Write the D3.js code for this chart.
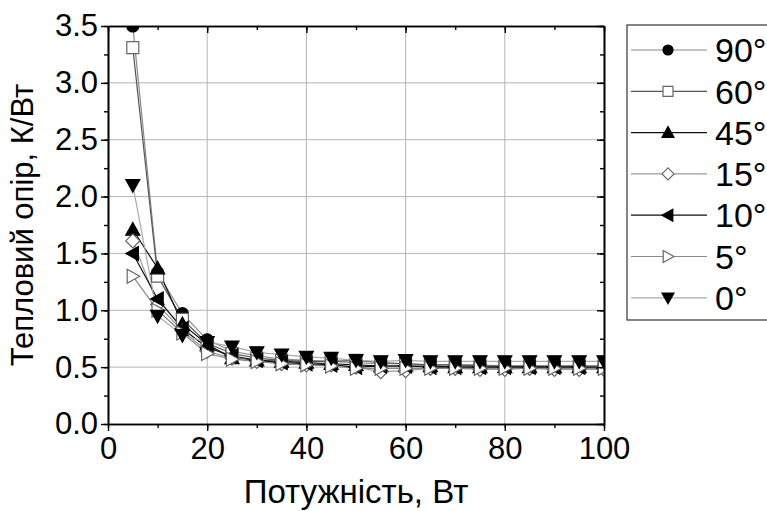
<!DOCTYPE html>
<html lang="uk">
<head>
  <meta charset="UTF-8">
  <title>Тепловий опір</title>
  <script src="https://d3js.org/d3.v7.min.js"></script>
  <style>
    body { margin: 0; background: #fff; }
    svg { display: block; font-family: "Liberation Sans", Arial, Helvetica, sans-serif; }
    .grid line { stroke: #b4b4b4; stroke-width: 1; }
    .axis path, .axis line { stroke: #000; }
  </style>
</head>
<body>
  <svg width="767" height="511"></svg>
  <script>
    // Power, W
    const power = [5, 10, 15, 20, 25, 30, 35, 40, 45, 50, 55, 60, 65, 70, 75, 80, 85, 90, 95, 100];

    // Thermal resistance, K/W, per inclination angle
    const r90 = [3.50, 1.33, 0.97, 0.74, 0.64, 0.60, 0.57, 0.56, 0.55, 0.54, 0.53, 0.53, 0.52, 0.52, 0.52, 0.51, 0.51, 0.51, 0.51, 0.51];
    const r60 = [3.31, 1.30, 0.92, 0.71, 0.62, 0.58, 0.56, 0.55, 0.55, 0.56, 0.54, 0.53, 0.52, 0.52, 0.51, 0.51, 0.51, 0.51, 0.51, 0.51];
    const r45 = [1.71, 1.37, 0.88, 0.70, 0.58, 0.56, 0.55, 0.54, 0.53, 0.52, 0.51, 0.51, 0.51, 0.50, 0.50, 0.50, 0.50, 0.50, 0.50, 0.50];
    const r15 = [1.61, 1.05, 0.82, 0.64, 0.58, 0.55, 0.53, 0.52, 0.52, 0.50, 0.46, 0.47, 0.49, 0.49, 0.48, 0.48, 0.49, 0.48, 0.48, 0.48];
    const r10 = [1.50, 1.10, 0.84, 0.67, 0.60, 0.56, 0.54, 0.53, 0.52, 0.50, 0.51, 0.51, 0.50, 0.50, 0.50, 0.50, 0.50, 0.50, 0.50, 0.49];
    const r5  = [1.30, 1.00, 0.80, 0.62, 0.57, 0.55, 0.53, 0.52, 0.51, 0.49, 0.49, 0.49, 0.49, 0.49, 0.49, 0.49, 0.49, 0.49, 0.49, 0.49];
    const r0  = [2.10, 0.95, 0.78, 0.72, 0.68, 0.63, 0.61, 0.59, 0.58, 0.56, 0.55, 0.56, 0.55, 0.55, 0.55, 0.55, 0.55, 0.55, 0.55, 0.55];

    const labels = ["90°", "60°", "45°", "15°", "10°", "5°", "0°"];
    const xTicks = [0, 20, 40, 60, 80, 100];
    const yTicks = [0, 0.5, 1, 1.5, 2, 2.5, 3, 3.5];

    const series = [
      { name: labels[0], values: r90, shape: "circle", filled: true,  line: "#8a8a8a" },
      { name: labels[1], values: r60, shape: "square", filled: false, line: "#555" },
      { name: labels[2], values: r45, shape: "up",     filled: true,  line: "#111" },
      { name: labels[3], values: r15, shape: "diamond", filled: false, line: "#9a9a9a" },
      { name: labels[4], values: r10, shape: "left",   filled: true,  line: "#111" },
      { name: labels[5], values: r5,  shape: "right",  filled: false, line: "#8a8a8a" },
      { name: labels[6], values: r0,  shape: "down",   filled: true,  line: "#aaa" }
    ];

    // marker outlines, r = half size
    function marker(shape, r) {
      switch (shape) {
        case "circle": return `M${r},0A${r},${r} 0 1,1 ${-r},0A${r},${r} 0 1,1 ${r},0Z`;
        case "square": return `M${-r},${-r}H${r}V${r}H${-r}Z`;
        case "diamond": return `M0,${-r}L${r},0L0,${r}L${-r},0Z`;
        case "up": return `M0,${-r}L${r},${r * 0.8}L${-r},${r * 0.8}Z`;
        case "down": return `M0,${r}L${r},${-r * 0.8}L${-r},${-r * 0.8}Z`;
        case "left": return `M${-r},0L${r * 0.8},${-r}L${r * 0.8},${r}Z`;
        case "right": return `M${r},0L${-r * 0.8},${-r}L${-r * 0.8},${r}Z`;
      }
    }

    const svg = d3.select("svg");
    const margin = { top: 26, left: 108, right: 163, bottom: 87 };
    const width = 767 - margin.left - margin.right;
    const height = 511 - margin.top - margin.bottom;

    const x = d3.scaleLinear().domain([0, 100]).range([0, width]);
    const y = d3.scaleLinear().domain([0, 3.5]).range([height, 0]);

    const g = svg.append("g").attr("transform", `translate(${margin.left},${margin.top})`);

    svg.append("defs").append("clipPath").attr("id", "clip")
      .append("rect").attr("width", width).attr("height", height);

    // gridlines
    g.append("g").attr("class", "grid")
      .selectAll("line").data(xTicks.slice(1, -1)).join("line")
      .attr("x1", d => x(d)).attr("x2", d => x(d)).attr("y1", 0).attr("y2", height);
    g.append("g").attr("class", "grid")
      .selectAll("line").data(yTicks.slice(1, -1)).join("line")
      .attr("y1", d => y(d)).attr("y2", d => y(d)).attr("x1", 0).attr("x2", width);

    // data
    const plot = g.append("g").attr("clip-path", "url(#clip)");
    const line = d3.line().x((d, i) => x(power[i])).y(d => y(d));

    series.forEach(s => {
      plot.append("path")
        .attr("d", line(s.values))
        .attr("fill", "none")
        .attr("stroke", s.line)
        .attr("stroke-width", 1.2);
    });
    series.forEach(s => {
      plot.selectAll(null).data(s.values).join("path")
        .attr("transform", (d, i) => `translate(${x(power[i])},${y(d)})`)
        .attr("d", marker(s.shape, s.shape === "square" || s.shape === "circle" ? 6 : 7))
        .attr("fill", s.filled ? "#000" : "#fff")
        .attr("stroke", s.filled ? "#000" : "#666")
        .attr("stroke-width", 1.2);
    });

    // axes
    const fontSize = 31;
    const minorX = d3.range(0, 101, 10);
    const minorY = d3.range(0, 3.51, 0.25);

    const styleAxis = sel => {
      sel.attr("class", "axis");
      sel.select(".domain").attr("stroke-width", 1.6);
      sel.selectAll(".tick line").attr("stroke-width", 1.4);
    };

    g.append("g").attr("transform", `translate(0,${height})`)
      .call(d3.axisBottom(x).tickValues(minorX).tickSize(4).tickFormat("").tickSizeOuter(0)).call(styleAxis);
    g.append("g").attr("transform", `translate(0,${height})`)
      .call(d3.axisBottom(x).tickValues(xTicks).tickSize(7).tickPadding(6).tickSizeOuter(0)).call(styleAxis)
      .selectAll("text").attr("font-size", fontSize).attr("font-family", "Liberation Sans, Arial, sans-serif").attr("fill", "#000");

    g.append("g")
      .call(d3.axisLeft(y).tickValues(minorY).tickSize(4).tickFormat("").tickSizeOuter(0)).call(styleAxis);
    g.append("g")
      .call(d3.axisLeft(y).tickValues(yTicks).tickSize(7).tickPadding(3).tickFormat(d3.format(".1f")).tickSizeOuter(0)).call(styleAxis)
      .selectAll("text").attr("font-size", fontSize).attr("font-family", "Liberation Sans, Arial, sans-serif").attr("fill", "#000");

    g.append("g")
      .call(d3.axisTop(x).tickValues(minorX).tickSize(-4).tickFormat("").tickSizeOuter(0)).call(styleAxis);
    g.append("g")
      .call(d3.axisTop(x).tickValues(xTicks).tickSize(-7).tickFormat("").tickSizeOuter(0)).call(styleAxis);
    g.append("g").attr("transform", `translate(${width},0)`)
      .call(d3.axisRight(y).tickValues(minorY).tickSize(-4).tickFormat("").tickSizeOuter(0)).call(styleAxis);
    g.append("g").attr("transform", `translate(${width},0)`)
      .call(d3.axisRight(y).tickValues(yTicks).tickSize(-7).tickFormat("").tickSizeOuter(0)).call(styleAxis);

    // axis titles
    svg.append("text")
      .attr("x", margin.left + width / 2).attr("y", 503)
      .attr("text-anchor", "middle").attr("font-size", 33)
      .text("Потужність, Вт");
    svg.append("text")
      .attr("transform", `translate(33,${margin.top + height / 2}) rotate(-90)`)
      .attr("text-anchor", "middle").attr("font-size", 31)
      .text("Тепловий опір, К/Вт");

    // legend
    const legend = svg.append("g").attr("transform", "translate(627,25)");
    legend.append("rect").attr("width", 150).attr("height", 295)
      .attr("fill", "#fff").attr("stroke", "#333").attr("stroke-width", 1.2);
    series.forEach((s, i) => {
      const row = legend.append("g").attr("transform", `translate(0,${25 + i * 41.3})`);
      row.append("line").attr("x1", 4).attr("x2", 80)
        .attr("stroke", s.line).attr("stroke-width", 1.2);
      row.append("path").attr("transform", "translate(41,0)")
        .attr("d", marker(s.shape, s.shape === "square" || s.shape === "circle" ? 5 : 6))
        .attr("fill", s.filled ? "#000" : "#fff")
        .attr("stroke", s.filled ? "#000" : "#666")
        .attr("stroke-width", 1.2);
      row.append("text").attr("x", 88).attr("dy", "0.36em")
        .attr("font-size", 34).text(s.name);
    });
  </script>
</body>
</html>
